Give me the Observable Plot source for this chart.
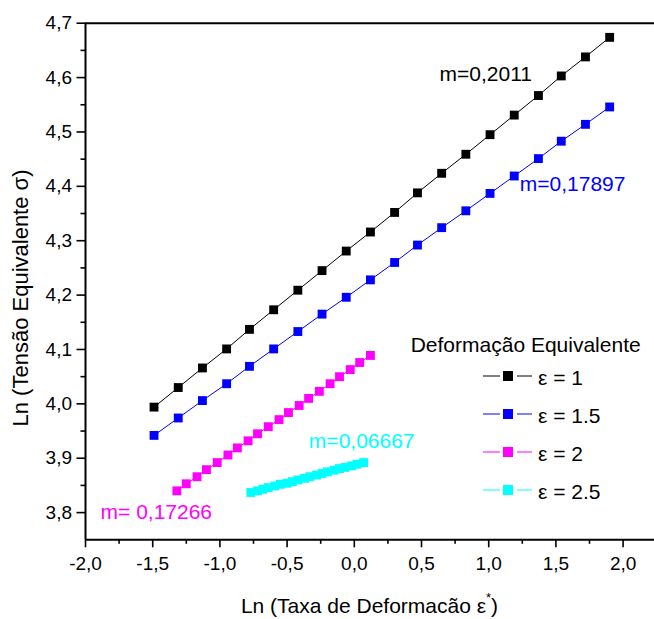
<!DOCTYPE html>
<html><head><meta charset="utf-8">
<script src="https://cdn.jsdelivr.net/npm/d3@7"></script>
<script src="https://cdn.jsdelivr.net/npm/@observablehq/plot@0.6"></script>
<style>
body{margin:0;background:#fff;}
svg{font-family:"Liberation Sans",Arial,sans-serif;}
</style>
</head><body><div id="chart"></div>
<script>
// x values (Ln strain rate) for series eps=1 and eps=1.5
const xHigh = [-1.49,-1.31,-1.13,-0.95,-0.78,-0.60,-0.42,-0.24,-0.06,0.12,0.30,0.47,0.65,0.83,1.01,1.19,1.37,1.54,1.72,1.90];
// x values for eps=2
const xMid = [-1.32,-1.25,-1.17,-1.10,-1.02,-0.94,-0.87,-0.79,-0.72,-0.64,-0.56,-0.49,-0.41,-0.34,-0.26,-0.18,-0.11,-0.03,0.04,0.12];
// x values for eps=2.5
const xLow = [-0.77,-0.72,-0.68,-0.64,-0.59,-0.55,-0.50,-0.46,-0.42,-0.37,-0.33,-0.28,-0.24,-0.20,-0.15,-0.11,-0.07,-0.02,0.02,0.07];
const yEps1 = [3.994,4.030,4.066,4.101,4.137,4.173,4.209,4.245,4.281,4.316,4.352,4.388,4.424,4.459,4.495,4.531,4.567,4.603,4.638,4.674];
const yEps15 = [3.942,3.974,4.006,4.037,4.069,4.101,4.133,4.165,4.196,4.228,4.260,4.292,4.324,4.355,4.387,4.419,4.451,4.483,4.514,4.546];
const yEps2 = [3.840,3.853,3.866,3.879,3.892,3.906,3.919,3.932,3.945,3.958,3.971,3.984,3.997,4.010,4.023,4.037,4.050,4.063,4.076,4.089];
const yEps25 = [3.837,3.840,3.843,3.846,3.849,3.852,3.854,3.857,3.860,3.863,3.866,3.869,3.872,3.875,3.878,3.881,3.883,3.886,3.889,3.892];

const seriesNames = ["ε = 1","ε = 1.5","ε = 2","ε = 2.5"];
const seriesColors = ["#000000","#0000ff","#ff00ff","#00ffff"];
const xTicks = [-2,-1.5,-1,-0.5,0,0.5,1,1.5,2];
const xMinor = [-1.75,-1.25,-0.75,-0.25,0.25,0.75,1.25,1.75];
const yTicks = [3.8,3.9,4.0,4.1,4.2,4.3,4.4,4.5,4.6,4.7];
const yMinor = [3.85,3.95,4.05,4.15,4.25,4.35,4.45,4.55,4.65];
const slopeText = ["m=0,2011","m=0,17897","m= 0,17266","m=0,06667"];
const slopeX = [0.634,1.231,-1.888,-0.338];
const slopeY = [4.606,4.4035,3.800,3.931];
const legendTitle = "Deformação Equivalente";
const xLabel = "Ln (Taxa de Deformacão ε";
const yLabel = "Ln (Tensão Equivalente σ)";

const xs = [xHigh, xHigh, xMid, xLow];
const ys = [yEps1, yEps15, yEps2, yEps25];
const rows = [];
seriesNames.forEach((s, i) => xs[i].forEach((x, j) => rows.push({series: s, x, y: ys[i][j]})));
const notes = slopeText.map((t, i) => ({t, x: slopeX[i], y: slopeY[i], c: seriesColors[i]}));

const fmt = d => d.toFixed(1).replace(".", ",");
const W = 654, H = 619, mL = 85, mT = 22.7, mB = 79.7;
const chart = Plot.plot({
  width: W, height: H,
  marginLeft: mL, marginRight: 0, marginTop: mT, marginBottom: mB,
  style: {fontFamily: '"Liberation Sans", Arial, sans-serif', fontSize: "19px", background: "white", color: "black"},
  x: {domain: [-2, -2 + (W - mL) / 134.4]},
  y: {domain: [3.75, 4.7]},
  color: {domain: seriesNames, range: seriesColors},
  marks: [
    Plot.axisX({ticks: xTicks, tickFormat: fmt, tickSize: 8, tickPadding: 9, strokeWidth: 1.6, label: null, fontSize: 19}),
    Plot.axisX({ticks: xMinor, tickSize: 4.5, text: null, label: null, strokeWidth: 1.6}),
    Plot.axisY({ticks: yTicks, tickFormat: fmt, tickSize: 8.5, tickPadding: 5, strokeWidth: 1.6, label: null, fontSize: 19}),
    Plot.axisY({ticks: yMinor, tickSize: 4.5, text: null, label: null, strokeWidth: 1.6}),
    Plot.ruleX([-2], {strokeWidth: 2}),
    Plot.ruleY([3.75, 4.7], {strokeWidth: 2}),
    Plot.line(rows, {x: "x", y: "y", z: "series", stroke: "series", strokeWidth: 1}),
    Plot.dot(rows, {x: "x", y: "y", fill: "series", symbol: "square", r: 5}),
    Plot.text(notes, {x: "x", y: "y", text: "t", fill: d => d.c, textAnchor: "start", fontSize: 21})
  ]
});
document.getElementById("chart").appendChild(chart);

const svg = d3.select(chart);
// axis labels
const xl = svg.append("text").attr("x", (mL + W) / 2).attr("y", 613).attr("text-anchor", "middle")
  .attr("font-size", 21).attr("fill", "black");
xl.append("tspan").text(xLabel);
xl.append("tspan").attr("font-size", 13).attr("dy", -11).text("*");
xl.append("tspan").attr("dy", 11).text(")");
svg.append("text").attr("transform", "translate(28,298) rotate(-90)").attr("text-anchor", "middle")
  .attr("font-size", 22).attr("fill", "black").text(yLabel);

// legend
const lg = svg.append("g").attr("text-anchor", "start");
lg.append("text").attr("x", 410.7).attr("y", 352).attr("text-anchor", "start").attr("font-size", 21).attr("fill", "black").text(legendTitle);
seriesNames.forEach((s, i) => {
  const cy = 376 + i * 38;
  lg.append("line").attr("x1", 483).attr("x2", 500).attr("y1", cy).attr("y2", cy).attr("stroke", seriesColors[i]).attr("stroke-width", 1);
  lg.append("line").attr("x1", 517).attr("x2", 532).attr("y1", cy).attr("y2", cy).attr("stroke", seriesColors[i]).attr("stroke-width", 1);
  lg.append("rect").attr("x", 503).attr("y", cy - 5).attr("width", 10).attr("height", 10).attr("fill", seriesColors[i]);
  lg.append("text").attr("x", 538).attr("y", cy + 8.5).attr("text-anchor", "start").attr("font-size", 21).attr("fill", "black").text(s);
});
</script>
</body></html>
